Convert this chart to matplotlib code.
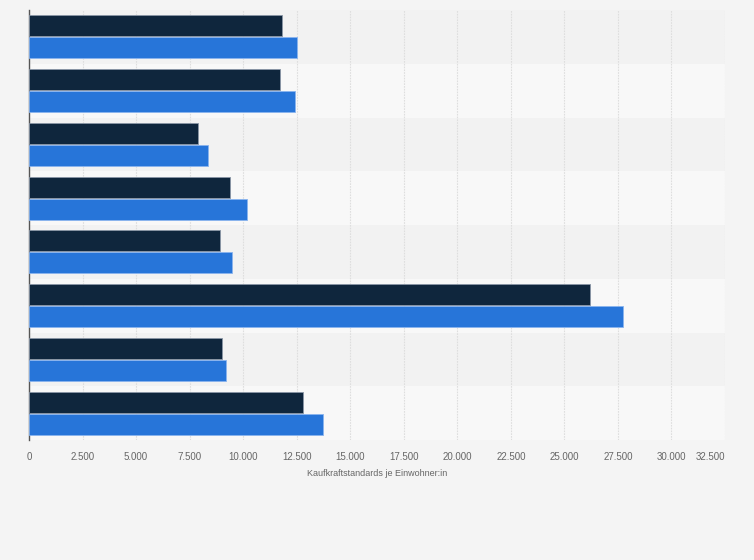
import numpy as np
from matplotlib import pyplot as plt

# values per group (top to bottom), Kaufkraftstandards je Einwohner:in
dark_values = [11800, 11700, 7900, 9400, 8900, 26180, 9000, 12780]
blue_values = [12500, 12400, 8380, 10200, 9500, 27730, 9190, 13720]
tick_values = list(range(0, 32501, 2500))
tick_labels = ["0", "2.500", "5.000", "7.500", "10.000", "12.500", "15.000",
               "17.500", "20.000", "22.500", "25.000", "27.500", "30.000", "32.500"]

fig = plt.figure(figsize=(7.54, 5.6), dpi=100, facecolor="#f4f4f4")
ax = fig.add_axes([29 / 754, 1 - 440 / 560, 696 / 754, 430 / 560])
ax.set_facecolor("#f4f4f4")

n = len(dark_values)
y = np.arange(n)
bar_h = 0.39

# alternating row stripes
for i in range(n):
    ax.axhspan(i - 0.5, i + 0.5, color="#f2f2f2" if i % 2 == 0 else "#f8f8f8",
               zorder=0, lw=0)

ax.barh(y - bar_h / 2 - 0.01, dark_values, height=bar_h, color="#0f263d",
        edgecolor="#8a96a6", linewidth=0.6, zorder=3)
ax.barh(y + bar_h / 2 + 0.01, blue_values, height=bar_h, color="#2775d9",
        edgecolor="#8ab4ee", linewidth=0.6, zorder=3)

ax.set_ylim(n - 0.5, -0.5)
ax.set_xlim(0, 32500)
ax.set_yticks([])
ax.set_xticks(tick_values)
ax.set_xticklabels(tick_labels, fontsize=7, color="#666666", family="Liberation Sans")
ax.get_xticklabels()[-1].set_ha("right")
ax.tick_params(axis="x", length=0, pad=9)
ax.grid(axis="x", color="#dedede", linestyle=(0, (1.5, 1)), linewidth=0.8, zorder=1)

for side in ["top", "right", "bottom"]:
    ax.spines[side].set_visible(False)
ax.spines["left"].set_color("#555555")
ax.spines["left"].set_linewidth(1)

ax.set_xlabel("Kaufkraftstandards je Einwohner:in", fontsize=6.5, color="#666666",
              family="Liberation Sans", labelpad=5)

fig.savefig("out.png", dpi=100, facecolor=fig.get_facecolor())
